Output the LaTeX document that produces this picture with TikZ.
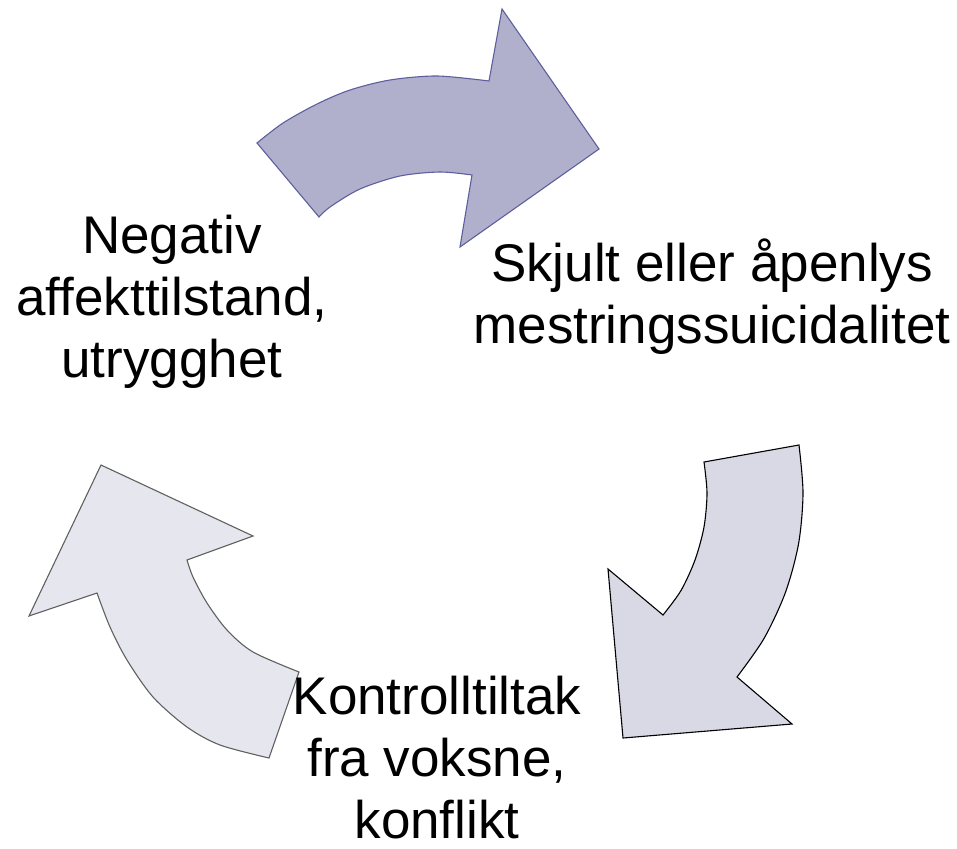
\documentclass[tikz,border=0pt]{standalone}
\usepackage{fontspec}
\setmainfont{Liberation Sans}
\definecolor{arrowA}{HTML}{B0B0CC}
\definecolor{arrowAline}{HTML}{5E5E9E}
\definecolor{arrowB}{HTML}{D9D9E6}
\definecolor{arrowC}{HTML}{E6E6EE}
\definecolor{arrowCline}{HTML}{606060}
\begin{document}
\begin{tikzpicture}[x=1pt,y=-1pt,
  cyclearrow/.style={line width=1.1pt, line join=miter},
  label/.style={font=\fontsize{53}{62}\selectfont, align=center, inner sep=0pt, anchor=base}]
\useasboundingbox (0,0) rectangle (957,848);
% top arrow
\draw[cyclearrow, fill=arrowA, draw=arrowAline]
  (257,143) -- plot[smooth] coordinates {(257,143) (283,123) (317,104) (350,90) (390,80) (437,76) (489,81)}
  -- (502,9) -- (599,149) -- (460,247) -- (472,175)
  -- plot[smooth] coordinates {(472,175) (440,172) (400,176) (360,189) (330,207) (319,217)}
  -- cycle;
% right arrow
\draw[cyclearrow, fill=arrowB, draw=black]
  (704,462) -- (799,445)
  -- plot[smooth] coordinates {(799,445) (803,493) (798.6,543.5) (785.4,592.5) (764,638.5) (737,677)}
  -- (792,724) -- (623,738) -- (608,569) -- (663,615)
  -- plot[smooth] coordinates {(663,615) (681,590.5) (695,560) (704,527) (707,493) (704,462)}
  -- cycle;
% left arrow
\draw[cyclearrow, fill=arrowC, draw=arrowCline]
  (269,758) -- (299,672)
  -- plot[smooth] coordinates {(299,672) (253,652) (227,630) (207,603) (193,577) (187,560)}
  -- (253,536) -- (101,465) -- (29,616) -- (97,593)
  -- plot[smooth] coordinates {(97,593) (110,627) (127,660) (153,697) (187,727) (220,745) (269,758)}
  -- cycle;
\node[label] (neg) at (172,377) {Negativ\\affekttilstand,\\utrygghet};
\node[label] (skj) at (712,343) {Skjult eller åpenlys\\mestringssuicidalitet};
\node[label] (kon) at (437,838) {Kontrolltiltak\\fra voksne,\\konflikt};
\end{tikzpicture}
\end{document}
